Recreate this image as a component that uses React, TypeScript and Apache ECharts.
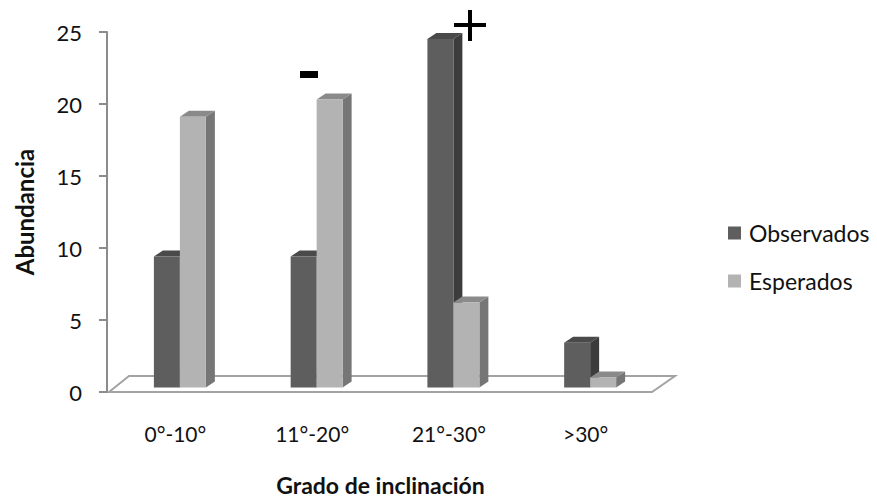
import React, { useEffect, useRef } from "react";
import * as echarts from "echarts";

const categories = ["0°-10°", "11°-20°", "21°-30°", ">30°"];
const observados = [9.1, 9.1, 24.2, 3.1];
const esperados = [18.8, 20.0, 5.9, 0.7];
const yTicks = { min: 0, max: 25, interval: 5 };

const FONT = "Lato, 'Noto Sans', sans-serif";

const palettes = [
  { front: "#5e5e5e", top: "#4a4a4a", side: "#3c3c3c" },
  { front: "#b3b3b3", top: "#8a8a8a", side: "#767676" },
];

function makeRender(seriesIdx: number) {
  return (params: any, api: any) => {
    const idx = api.value(0);
    const v = api.value(1);
    const base = api.coord([idx, 0]);
    const topPt = api.coord([idx, v]);
    const band = api.size([1, 0])[0];
    const W = band * 0.19;
    const SHIFT = band * 0.033;
    const LIFT = 4.5;
    const DX = 9;
    const DY = -6;
    const cx = base[0] + SHIFT;
    const x0 = seriesIdx === 0 ? cx - W : cx;
    const yb = base[1] - LIFT;
    const yt = topPt[1] - LIFT;
    const p = palettes[seriesIdx];
    return {
      type: "group",
      children: [
        {
          type: "polygon",
          shape: {
            points: [
              [x0 + W, yt],
              [x0 + W + DX, yt + DY],
              [x0 + W + DX, yb + DY],
              [x0 + W, yb],
            ],
          },
          style: { fill: p.side },
        },
        {
          type: "polygon",
          shape: {
            points: [
              [x0, yt],
              [x0 + DX, yt + DY],
              [x0 + W + DX, yt + DY],
              [x0 + W, yt],
            ],
          },
          style: { fill: p.top },
        },
        {
          type: "rect",
          shape: { x: x0, y: yt, width: W, height: yb - yt },
          style: { fill: p.front },
        },
      ],
    };
  };
}

export default function App() {
  const ref = useRef<HTMLDivElement>(null);
  useEffect(() => {
    if (!ref.current) return;
    const chart = echarts.init(ref.current, undefined, { renderer: "svg" });
    chart.setOption({
      animation: false,
      backgroundColor: "#ffffff",
      grid: {
        left: 107,
        right: 223,
        top: 32,
        bottom: 106,
        containLabel: false,
        outerBoundsMode: "none",
      },
      legend: {
        orient: "vertical",
        left: 728,
        top: 221,
        padding: 0,
        itemWidth: 13,
        itemHeight: 13,
        itemGap: 24,
        icon: "rect",
        textStyle: {
          fontFamily: FONT,
          fontSize: 23,
          lineHeight: 24,
          color: "#111",
          padding: [0, 0, 0, 3],
        },
        data: ["Observados", "Esperados"],
      },
      xAxis: {
        type: "category",
        data: categories,
        axisLine: { show: false },
        axisTick: { show: false },
        axisLabel: {
          margin: 31,
          fontFamily: FONT,
          fontSize: 21,
          color: "#111",
        },
        name: "Grado de inclinación",
        nameLocation: "middle",
        nameGap: 81,
        nameTextStyle: {
          fontFamily: FONT,
          fontSize: 23,
          fontWeight: "bold",
          color: "#111",
        },
      },
      yAxis: {
        type: "value",
        min: yTicks.min,
        max: yTicks.max,
        interval: yTicks.interval,
        splitLine: { show: false },
        axisLine: { show: true, lineStyle: { color: "#8c8c8c", width: 2 } },
        axisTick: {
          show: true,
          length: 8,
          lineStyle: { color: "#8c8c8c", width: 2 },
        },
        axisLabel: {
          margin: 25,
          fontFamily: FONT,
          fontSize: 22,
          color: "#111",
        },
        name: "Abundancia",
        nameLocation: "middle",
        nameRotate: 90,
        nameGap: 71,
        nameTextStyle: {
          fontFamily: FONT,
          fontSize: 24,
          fontWeight: "bold",
          color: "#111",
        },
      },
      graphic: [
        {
          type: "polygon",
          z: 0,
          shape: {
            points: [
              [109, 392],
              [129, 376],
              [675, 376],
              [652, 392],
            ],
          },
          style: { fill: "none", stroke: "#a3a3a3", lineWidth: 2 },
        },
        {
          type: "rect",
          z: 10,
          shape: { x: 454, y: 23, width: 32, height: 4 },
          style: { fill: "#000" },
        },
        {
          type: "rect",
          z: 10,
          shape: { x: 468, y: 10, width: 4, height: 31 },
          style: { fill: "#000" },
        },
        {
          type: "rect",
          z: 10,
          shape: { x: 300, y: 71, width: 18, height: 7 },
          style: { fill: "#000" },
        },
      ],
      series: [
        {
          name: "Observados",
          type: "custom",
          itemStyle: { color: palettes[0].front },
          renderItem: makeRender(0),
          encode: { x: 0, y: 1 },
          data: observados.map((v, i) => [i, v]),
          z: 3,
        },
        {
          name: "Esperados",
          type: "custom",
          itemStyle: { color: palettes[1].front },
          renderItem: makeRender(1),
          encode: { x: 0, y: 1 },
          data: esperados.map((v, i) => [i, v]),
          z: 4,
        },
      ],
    });
    return () => chart.dispose();
  }, []);
  return (
    <div
      ref={ref}
      style={{ position: "fixed", left: 0, top: 0, width: 877, height: 498 }}
    />
  );
}
